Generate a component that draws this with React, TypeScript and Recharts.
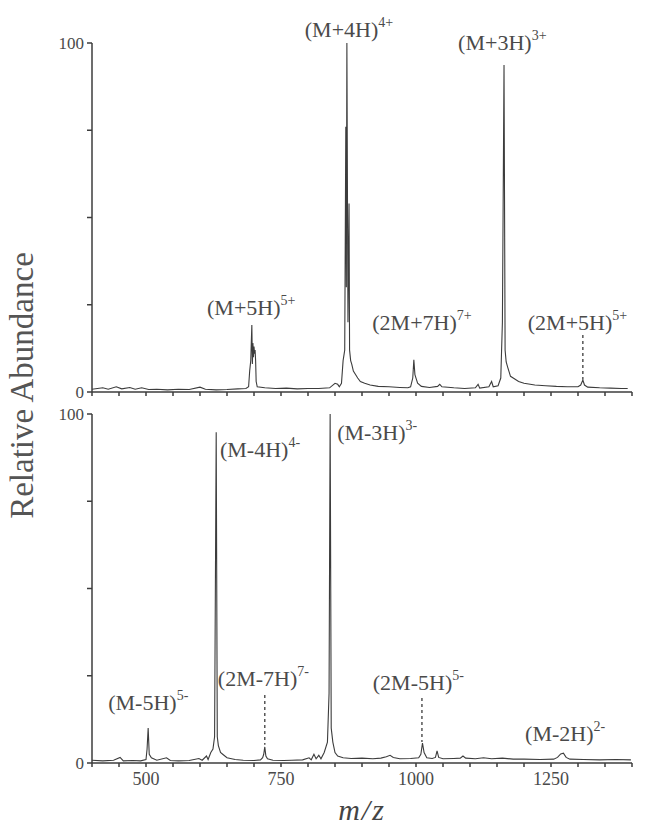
import React from 'react';
import { LineChart, Line, XAxis, YAxis, ReferenceLine, ReferenceDot } from 'recharts';

// positive-mode spectrum (m/z, relative abundance)
const positiveMz = [400, 420, 430, 445, 455, 470, 480, 492, 505, 520, 540, 560, 580, 600, 610, 630, 650, 670, 685, 690, 692, 694, 696, 697, 698, 699, 700, 701, 702, 703, 704, 706, 720, 740, 760, 780, 800, 820, 840, 850, 855, 858, 862, 865, 868, 870, 871, 872, 874, 876, 877, 879, 881, 884, 888, 892, 897, 905, 915, 930, 950, 970, 985, 990, 994, 996, 998, 1000, 1003, 1010, 1025, 1040, 1044, 1048, 1070, 1090, 1110, 1115, 1118, 1135, 1140, 1143, 1152, 1157, 1160, 1163, 1165, 1167, 1170, 1175, 1180, 1190, 1200, 1220, 1240, 1260, 1280, 1300, 1305, 1309, 1312, 1318, 1340, 1360, 1380, 1392];
const positiveAbundance = [0.8, 1.2, 0.8, 1.5, 0.9, 1.3, 0.8, 1.2, 0.7, 0.8, 0.6, 0.8, 0.7, 1.4, 0.8, 0.6, 0.7, 0.9, 1.0, 1.5, 6, 9, 19.2, 8, 14, 10, 13, 11, 12, 9, 3, 1.5, 1.2, 1.0, 1.1, 0.9, 1.0, 1.0, 1.2, 2.5, 2.2, 1.5, 2.5, 9, 12, 76, 30, 100, 20, 54, 12, 9, 8, 6, 5, 4, 3, 2.5, 2, 1.6, 1.5, 1.3, 1.2, 1.5, 4, 9.2, 5, 4, 2.5, 1.6, 1.3, 1.6, 2.2, 1.5, 1.2, 1.0, 1.2, 2.2, 1.1, 1.5, 3, 1.5, 1.8, 4, 20, 93.7, 12, 8.6, 7, 4.5, 4, 3, 2.5, 2, 1.8, 1.6, 1.5, 1.5, 2, 3.4, 2, 1.4, 1.2, 1.1, 1.0, 1.0];

// negative-mode spectrum
const negativeMz = [400, 420, 440, 452, 458, 475, 490, 500, 502, 504, 506, 510, 520, 538, 545, 560, 580, 598, 604, 612, 615, 620, 624, 627, 630, 632, 634, 638, 642, 650, 665, 680, 700, 712, 716, 718, 720, 722, 725, 735, 755, 770, 790, 802, 806, 811, 815, 820, 824, 830, 836, 839, 841, 843, 846, 850, 855, 865, 880, 900, 920, 935, 945, 952, 958, 970, 990, 1005, 1009, 1012, 1015, 1020, 1030, 1036, 1039, 1042, 1050, 1070, 1082, 1087, 1092, 1110, 1125, 1140, 1160, 1180, 1200, 1230, 1255, 1262, 1268, 1273, 1278, 1285, 1310, 1340, 1370, 1398];
const negativeAbundance = [0.8, 0.6, 0.8, 1.6, 0.6, 0.7, 0.6, 1, 4, 10, 2.5, 1.5, 0.8, 1.5, 0.7, 0.6, 0.7, 1.3, 0.8, 2, 1, 3, 4, 7.5, 94.8, 7.5, 5, 3, 2.5, 1.5, 1, 0.8, 0.7, 0.9, 1.5, 2.5, 4.6, 2, 1.2, 0.8, 0.7, 0.8, 0.9, 1.5, 0.9, 2.5, 1.2, 2.2, 1.2, 3, 6, 20, 100, 10, 6, 3, 2, 1.5, 1.3, 1.4, 1.2, 1.4, 1.8, 2.2, 1.6, 1.2, 1.3, 1.5, 2.5, 5.7, 3, 1.5, 1.3, 1.6, 3.5, 1.6, 1.2, 1.3, 1.4, 2, 1.4, 1.2, 1.5, 1.2, 1.4, 1.1, 1.1, 1.0, 1.1, 1.6, 2.6, 2.8, 1.6, 1.1, 1.0, 0.9, 1.0, 0.9];

// ion labels: text, charge superscript, left edge m/z, baseline abundance
const positiveIons = [
  { ion: '(M+4H)', charge: '4+', mz: 794, at: 101.7 },
  { ion: '(M+3H)', charge: '3+', mz: 1078, at: 97.9 },
  { ion: '(M+5H)', charge: '5+', mz: 613, at: 22 },
  { ion: '(2M+7H)', charge: '7+', mz: 919, at: 17.8 },
  { ion: '(2M+5H)', charge: '5+', mz: 1207, at: 17.8 },
];
const negativeIons = [
  { ion: '(M-4H)', charge: '4-', mz: 637, at: 87.7 },
  { ion: '(M-3H)', charge: '3-', mz: 854, at: 92.5 },
  { ion: '(M-5H)', charge: '5-', mz: 430, at: 15.2 },
  { ion: '(2M-7H)', charge: '7-', mz: 633, at: 22 },
  { ion: '(2M-5H)', charge: '5-', mz: 920, at: 21 },
  { ion: '(M-2H)', charge: '2-', mz: 1202, at: 6.3 },
];

// dashed leader lines: m/z, from, to
const positiveLeaders = [{ mz: 1309, from: 16.3, to: 3.6 }];
const negativeLeaders = [
  { mz: 720, from: 19.5, to: 5.2 },
  { mz: 1011, from: 18.6, to: 6 },
];

const xTicks = [400, 450, 500, 550, 600, 650, 700, 750, 800, 850, 900, 950, 1000, 1050, 1100, 1150, 1200, 1250, 1300, 1350, 1400];
const xLabels = [500, 750, 1000, 1250];
const yTicks = [0, 25, 50, 75, 100];
const yLabels = [0, 100];

const positiveData = positiveMz.map((mz, i) => ({ mz, v: positiveAbundance[i] }));
const negativeData = negativeMz.map((mz, i) => ({ mz, v: negativeAbundance[i] }));

const ink = '#3c3c3c';
const textColor = '#4a4a4a';
const serif = '"Liberation Serif", "Times New Roman", serif';

const IonLabel = ({ cx, cy, ion, charge }: any) => (
  <text x={cx} y={cy} fill={textColor} fontFamily={serif} fontSize={22}>
    <tspan>{ion}</tspan>
    <tspan dy={-10} fontSize={14}>{charge}</tspan>
  </text>
);

const Spectrum = ({ data, ions, leaders, height, margin, xHeight, showX }: any) => (
  <LineChart width={646} height={height} data={data} margin={margin}>
    <XAxis
      type="number"
      dataKey="mz"
      domain={[400, 1400]}
      ticks={xTicks}
      tickFormatter={(v: number) => (showX && xLabels.includes(v) ? String(v) : '')}
      height={xHeight}
      tickSize={4}
      tickMargin={5}
      stroke={ink}
      strokeWidth={1.5}
      tick={{ fill: textColor, fontSize: 18, fontFamily: serif }}
      interval={0}
    />
    <YAxis
      type="number"
      domain={[0, 100]}
      ticks={yTicks}
      tickFormatter={(v: number) => (yLabels.includes(v) ? String(v) : '')}
      width={92}
      tickSize={5}
      tickMargin={3}
      stroke={ink}
      strokeWidth={1.5}
      tick={{ fill: textColor, fontSize: 17, fontFamily: serif }}
      interval={0}
    />
    <Line type="linear" dataKey="v" stroke={ink} strokeWidth={1.1} dot={false} isAnimationActive={false} />
    {leaders.map((l: any) => (
      <ReferenceLine
        key={l.mz}
        segment={[{ x: l.mz, y: l.from }, { x: l.mz, y: l.to }]}
        stroke={ink}
        strokeWidth={1.3}
        strokeDasharray="3 3"
      />
    ))}
    {ions.map((d: any) => (
      <ReferenceDot
        key={d.ion + d.charge}
        x={d.mz}
        y={d.at}
        r={0}
        ifOverflow="visible"
        shape={(p: any) => <IonLabel cx={p.cx} cy={p.cy} ion={d.ion} charge={d.charge} />}
      />
    ))}
  </LineChart>
);

export default function App() {
  return (
    <div style={{ position: 'absolute', left: 0, top: 0, width: 646, height: 826, background: '#fff', fontFamily: serif }}>
      <div style={{ position: 'absolute', left: 0, top: 400 }}>
        <Spectrum
          data={negativeData}
          ions={negativeIons}
          leaders={negativeLeaders}
          height={426}
          margin={{ top: 14, right: 14, bottom: 23, left: 0 }}
          xHeight={40}
          showX={true}
        />
      </div>
      <div style={{ position: 'absolute', left: 0, top: 0 }}>
        <Spectrum
          data={positiveData}
          ions={positiveIons}
          leaders={positiveLeaders}
          height={406}
          margin={{ top: 43, right: 14, bottom: 6, left: 0 }}
          xHeight={8}
          showX={false}
        />
      </div>
      <div
        style={{
          position: 'absolute',
          left: 22 - 160,
          top: 385 - 16.5,
          width: 320,
          height: 33,
          lineHeight: '33px',
          fontSize: 33,
          textAlign: 'center',
          color: '#555',
          transform: 'rotate(-90deg)',
          whiteSpace: 'nowrap',
        }}
      >
        Relative Abundance
      </div>
      <div
        style={{
          position: 'absolute',
          left: 262,
          top: 794,
          width: 200,
          textAlign: 'center',
          fontSize: 30,
          fontStyle: 'italic',
          letterSpacing: 2,
          color: '#444',
          lineHeight: '32px',
        }}
      >
        m/z
      </div>
    </div>
  );
}
